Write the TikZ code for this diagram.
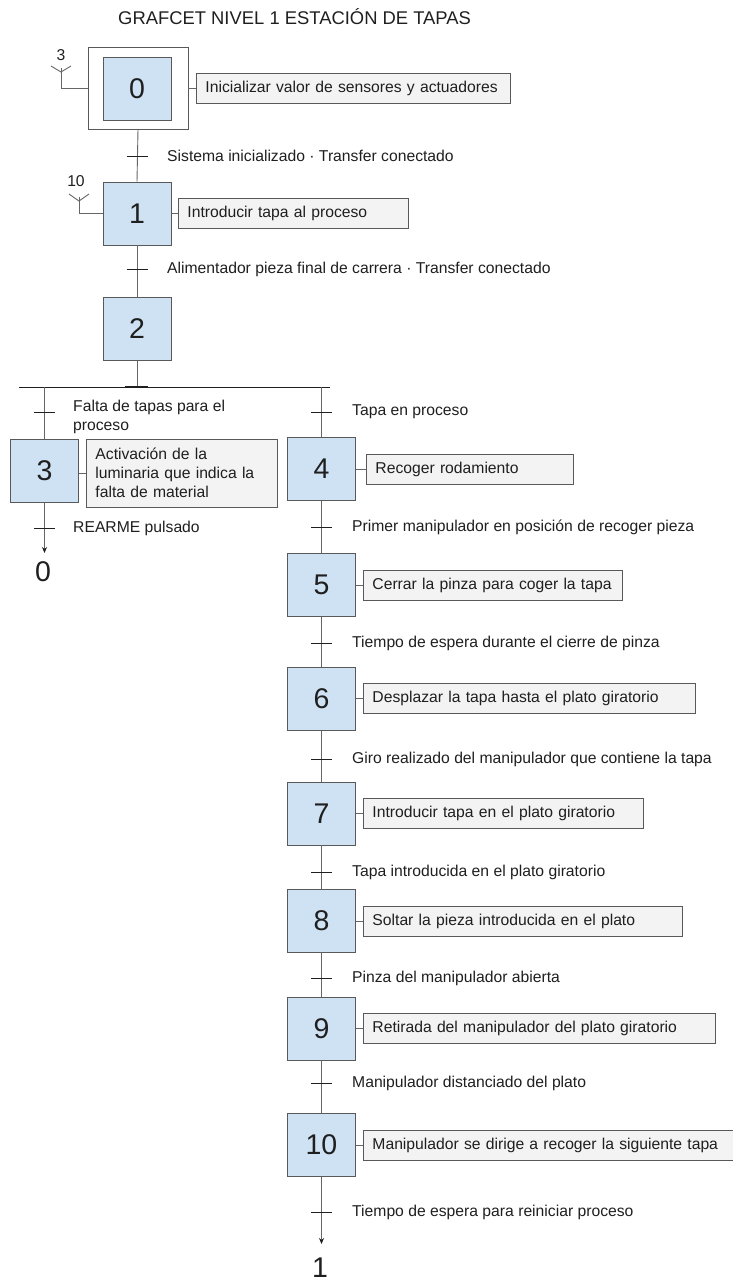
\documentclass[tikz,border=0pt]{standalone}
\usepackage{fontspec}
\setmainfont{Liberation Sans}
\usetikzlibrary{arrows.meta}

\definecolor{stepfill}{HTML}{CFE2F3}
\definecolor{actfill}{HTML}{F3F3F3}
\definecolor{framecol}{HTML}{595959}
\definecolor{wirecol}{HTML}{666666}
\definecolor{inkcol}{HTML}{1F1F1F}

\tikzset{
  stepbox/.style={draw=framecol, fill=stepfill, line width=0.9pt,
    minimum width=68pt, minimum height=63pt, inner sep=0pt,
    font=\fontsize{28.5}{28.5}\selectfont, text=inkcol},
  initbox/.style={draw=framecol, fill=white, line width=0.9pt,
    minimum width=100pt, minimum height=82pt, inner sep=0pt},
  actbox/.style={draw=framecol, fill=actfill, line width=0.9pt, anchor=west,
    minimum height=30pt, inner xsep=9pt, inner ysep=3pt, align=left,
    font=\fontsize{15.7}{19}\selectfont, text=inkcol},
  cond/.style={anchor=west, inner sep=0pt, align=left,
    font=\fontsize{15.7}{19}\selectfont, text=inkcol},
  bignum/.style={inner sep=0pt, font=\fontsize{28.5}{28.5}\selectfont, text=inkcol},
  smallnum/.style={inner sep=0pt, font=\fontsize{15.7}{16}\selectfont, text=inkcol},
  wire/.style={draw=wirecol, line width=0.9pt},
  tick/.style={draw=inkcol, line width=0.9pt},
  endarrow/.style={draw=wirecol, line width=0.9pt,
    -{Stealth[length=6pt,width=5pt,color=inkcol]}},
}

\begin{document}
\begin{tikzpicture}[x=1pt, y=-1pt]
\useasboundingbox (0,0) rectangle (732,1285);

% title
\node[inner sep=0pt, font=\fontsize{18.4}{20}\selectfont, text=inkcol, anchor=west] (title) at (118,17) {GRAFCET NIVEL 1 ESTACIÓN DE TAPAS};

% ---- steps ----
\node[initbox] (s0o) at (138,88) {};
\node[stepbox] (s0) at (137,88.5) {0};
\node[stepbox] (s1) at (137,213.5) {1};
\node[stepbox] (s2) at (137,329) {2};
\node[stepbox] (s3) at (44.5,471) {3};
\node[stepbox] (s4) at (321.5,469) {4};
\node[stepbox] (s5) at (321.5,585) {5};
\node[stepbox] (s6) at (321.5,699) {6};
\node[stepbox] (s7) at (321.5,813.5) {7};
\node[stepbox] (s8) at (321.5,920.5) {8};
\node[stepbox] (s9) at (321.5,1028.5) {9};
\node[stepbox] (s10) at (321.5,1145) {10};

% ---- actions ----
\node[actbox, text width=296pt] (a0) at (196,88) {Inicializar valor de sensores y actuadores};
\node[actbox, text width=212pt] (a1) at (178,213) {Introducir tapa al proceso};
\node[actbox, text width=173pt, minimum height=68pt] (a3) at (86,473) {Activación de la\\luminaria que indica la\\falta de material};
\node[actbox, text width=189pt] (a4) at (366,469) {Recoger rodamiento};
\node[actbox, text width=241pt] (a5) at (363,585) {Cerrar la pinza para coger la tapa};
\node[actbox, text width=314pt] (a6) at (363,698.5) {Desplazar la tapa hasta el plato giratorio};
\node[actbox, text width=262pt] (a7) at (363,813) {Introducir tapa en el plato giratorio};
\node[actbox, text width=301pt] (a8) at (363,921) {Soltar la pieza introducida en el plato};
\node[actbox, text width=334pt] (a9) at (363,1028) {Retirada del manipulador del plato giratorio};
\node[actbox, text width=352pt] (a10) at (363,1145) {Manipulador se dirige a recoger la siguiente tapa};

% step-to-action links
\draw[wire] (s0o.east) -- (a0.west);
\foreach \s/\a in {s1/a1, s3/a3, s4/a4, s5/a5, s6/a6, s7/a7, s8/a8, s9/a9, s10/a10}
  \draw[wire] (\s.east |- \a.west) -- (\a.west);

% ---- links between steps ----
\draw[wire] (s0o.south) -- (s1.north);
\draw[wire] (s1.south) -- (s2.north);
\coordinate (dv) at (137,387);
\draw[wire] (s2.south) -- (dv);
\coordinate (dvL) at (19,387);
\coordinate (dvR) at (330,387);
\draw[draw=inkcol, line width=0.9pt] (dvL) -- (dvR);
\draw[draw=inkcol, line width=1.8pt] (125,387) -- (148,387);
\coordinate (b3) at (44.5,387);
\coordinate (b4) at (321.5,387);
\draw[wire] (b3) -- (s3.north);
\draw[wire] (b4) -- (s4.north);
\foreach \u/\v in {s4/s5, s5/s6, s6/s7, s7/s8, s8/s9, s9/s10}
  \draw[wire] (\u.south) -- (\v.north);

% jumps back
\coordinate (j0) at (44.5,553);
\draw[endarrow] (s3.south) -- (j0);
\node[bignum] (n0) at (43,572) {0};
\coordinate (j1) at (321.5,1244);
\draw[endarrow] (s10.south) -- (j1);
\node[bignum] (n1) at (320,1268) {1};

% ---- transition bars ----
\foreach \x/\y in {137/156, 137/269, 44.5/412, 44.5/528, 321.5/412, 321.5/527,
                   321.5/643, 321.5/759, 321.5/872, 321.5/978, 321.5/1083, 321.5/1212}
  \draw[tick] (\x-10.5,\y) -- (\x+10.5,\y);

% ---- conditions ----
\node[cond] (c01) at (167,156) {Sistema inicializado · Transfer conectado};
\node[cond] (c12) at (167,269) {Alimentador pieza final de carrera · Transfer conectado};
\node[cond] (c23) at (73,416.5) {Falta de tapas para el\\proceso};
\node[cond] (c30) at (73,528) {REARME pulsado};
\node[cond] (c24) at (352,412) {Tapa en proceso};
\node[cond] (c45) at (352,527) {Primer manipulador en posición de recoger pieza};
\node[cond] (c56) at (352,643) {Tiempo de espera durante el cierre de pinza};
\node[cond] (c67) at (352,759) {Giro realizado del manipulador que contiene la tapa};
\node[cond] (c78) at (352,872) {Tapa introducida en el plato giratorio};
\node[cond] (c89) at (352,978) {Pinza del manipulador abierta};
\node[cond] (c910) at (352,1083) {Manipulador distanciado del plato};
\node[cond] (c101) at (352,1212) {Tiempo de espera para reiniciar proceso};

% ---- incoming links (from steps 3 and 10) ----
\node[smallnum] (in3) at (61,55) {3};
\coordinate (f0a) at (51,66);
\coordinate (f0b) at (71,66);
\coordinate (f0j) at (61,72);
\coordinate (f0t) at (61,68);
\coordinate (f0c) at (61,88);
\draw[wire] (f0a) -- (f0j) -- (f0b);
\draw[wire] (f0t) -- (f0c) -- (s0o.west |- f0c);

\node[smallnum] (in10) at (76,181) {10};
\coordinate (f1a) at (69,194);
\coordinate (f1b) at (89,194);
\coordinate (f1j) at (79,201);
\coordinate (f1t) at (79,197);
\coordinate (f1c) at (79,213.5);
\draw[wire] (f1a) -- (f1j) -- (f1b);
\draw[wire] (f1t) -- (f1c) -- (s1.west |- f1c);
\end{tikzpicture}
\end{document}
